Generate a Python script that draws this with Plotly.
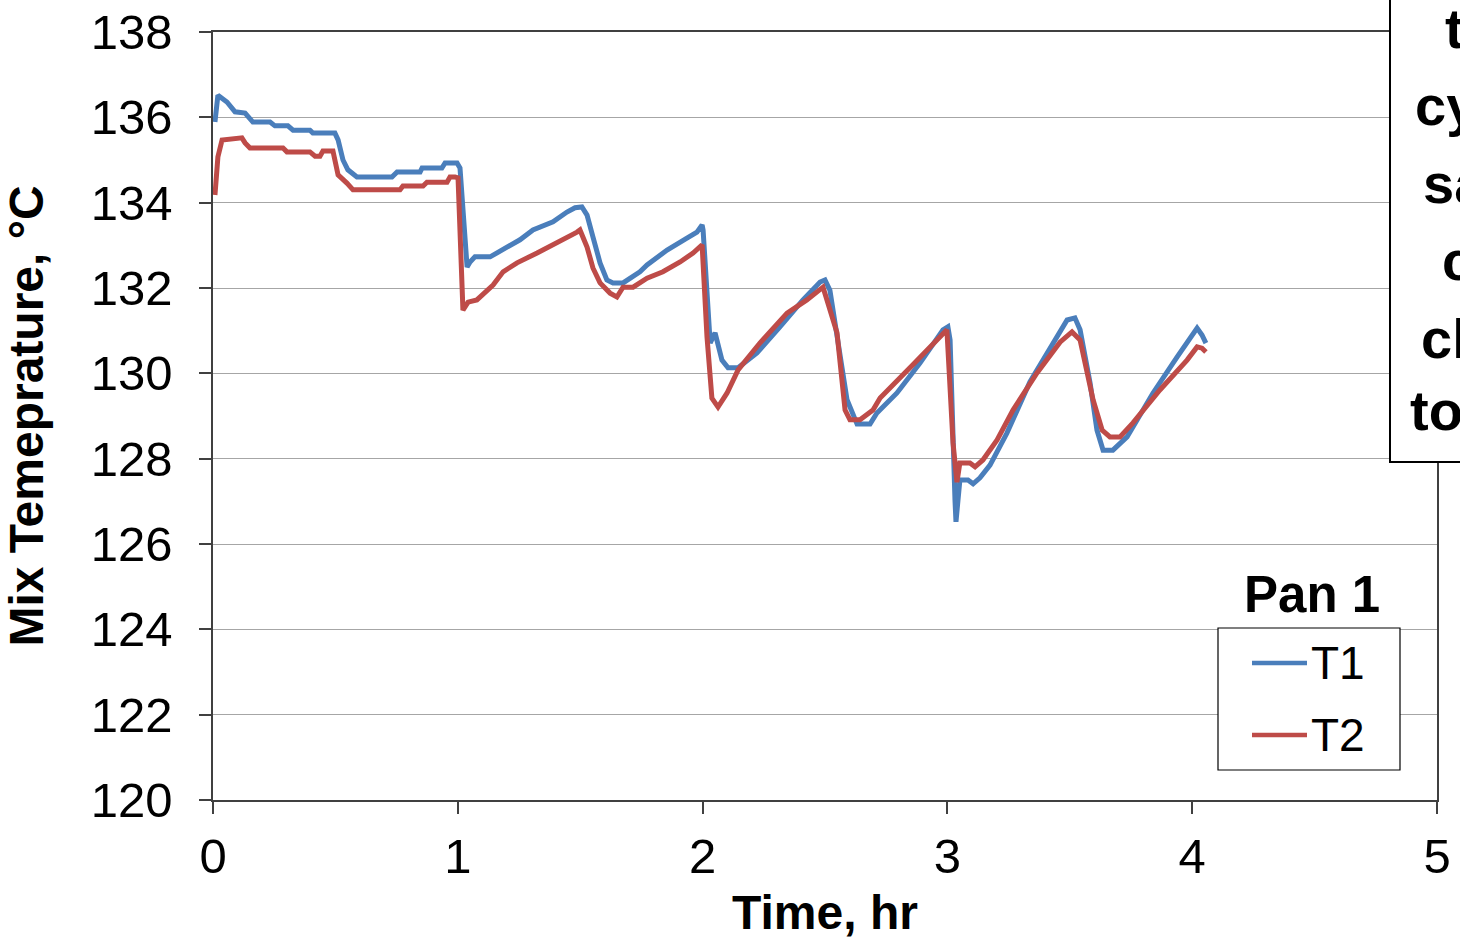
import plotly.graph_objects as go

# ---- data ----
t1_time = [0.008, 0.020, 0.057, 0.090, 0.131, 0.163, 0.233, 0.253, 0.306, 0.327, 0.396, 0.408, 0.498,
           0.511, 0.531, 0.551, 0.588, 0.731, 0.752, 0.846, 0.854, 0.935, 0.948, 0.997, 1.009,
           1.038, 1.050, 1.070, 1.132, 1.160, 1.201, 1.254, 1.307, 1.389, 1.446, 1.479, 1.507,
           1.528, 1.552, 1.581, 1.609, 1.634, 1.675, 1.703, 1.744, 1.773, 1.855, 1.936, 1.977,
           1.998, 2.002, 2.031, 2.051, 2.079, 2.104, 2.145, 2.222, 2.316, 2.410, 2.480, 2.500,
           2.520, 2.549, 2.590, 2.631, 2.684, 2.712, 2.794, 2.888, 2.982, 3.002, 3.011, 3.031,
           3.035, 3.051, 3.084, 3.105, 3.133, 3.174, 3.243, 3.337, 3.391, 3.460, 3.489, 3.521,
           3.542, 3.583, 3.611, 3.636, 3.676, 3.734, 3.840, 3.938, 4.020, 4.040, 4.056]
t1_temp = [135.89, 136.52, 136.36, 136.13, 136.10, 135.89, 135.89, 135.80, 135.80, 135.70, 135.70, 135.63, 135.63,
           135.47, 135.00, 134.77, 134.60, 134.60, 134.72, 134.72, 134.81, 134.81, 134.93, 134.93, 134.81,
           132.49, 132.61, 132.73, 132.73, 132.82, 132.96, 133.13, 133.36, 133.55, 133.78, 133.88, 133.90,
           133.71, 133.20, 132.59, 132.19, 132.12, 132.12, 132.23, 132.38, 132.54, 132.89, 133.17, 133.31,
           133.48, 133.36, 130.71, 130.95, 130.31, 130.13, 130.13, 130.48, 131.09, 131.72, 132.14, 132.19,
           131.95, 130.95, 129.38, 128.81, 128.81, 129.07, 129.54, 130.24, 131.02, 131.09, 130.78, 127.03,
           126.52, 127.50, 127.50, 127.41, 127.55, 127.85, 128.60, 129.80, 130.31, 130.95, 131.25, 131.30,
           131.02, 129.77, 128.67, 128.20, 128.20, 128.51, 129.54, 130.38, 131.06, 130.90, 130.71]

t2_time = [0.008, 0.020, 0.037, 0.118, 0.131, 0.151, 0.286, 0.302, 0.396, 0.417, 0.437, 0.449, 0.490,
           0.511, 0.547, 0.572, 0.764, 0.776, 0.858, 0.874, 0.956, 0.968, 0.989, 1.001,
           1.021, 1.042, 1.078, 1.119, 1.144, 1.185, 1.242, 1.324, 1.405, 1.487, 1.499,
           1.528, 1.552, 1.581, 1.622, 1.650, 1.675, 1.716, 1.773, 1.838, 1.908, 1.961, 1.998,
           2.018, 2.038, 2.063, 2.100, 2.145, 2.234, 2.345, 2.426, 2.492,
           2.549, 2.582, 2.602, 2.643, 2.696, 2.725, 2.859, 2.998,
           3.023, 3.039, 3.051, 3.092, 3.113, 3.145, 3.203, 3.268, 3.366, 3.460, 3.509,
           3.542, 3.595, 3.632, 3.664, 3.705, 3.758, 3.868, 3.979, 4.020, 4.040, 4.056]
t2_temp = [134.18, 135.07, 135.47, 135.52, 135.40, 135.28, 135.28, 135.19, 135.19, 135.09, 135.09, 135.21, 135.21,
           134.65, 134.46, 134.30, 134.30, 134.39, 134.39, 134.48, 134.48, 134.60, 134.60, 134.58,
           131.48, 131.67, 131.72, 131.95, 132.07, 132.38, 132.59, 132.82, 133.05, 133.31, 133.36,
           132.96, 132.47, 132.12, 131.88, 131.79, 132.02, 132.02, 132.23, 132.38, 132.61, 132.82, 133.01,
           130.85, 129.42, 129.21, 129.54, 130.08, 130.71, 131.41, 131.72, 132.02,
           130.95, 129.14, 128.91, 128.91, 129.14, 129.42, 130.20, 131.02,
           128.37, 127.45, 127.90, 127.90, 127.81, 127.97, 128.44, 129.14, 130.01, 130.73, 130.97,
           130.78, 129.38, 128.67, 128.51, 128.51, 128.84, 129.61, 130.31, 130.62, 130.59, 130.50]

series_names = ["T1", "T2"]
series_colors = ["#4A7EBB", "#BE4B48"]
legend_title = "Pan 1"
x_ticks = [0, 1, 2, 3, 4, 5]
y_ticks = [120, 122, 124, 126, 128, 130, 132, 134, 136, 138]
side_note_lines = ["t", "cy", "sa", "c", "cl", "to"]

FONT = "Liberation Sans, Arial, sans-serif"
W, H = 1460, 945
ML, MT = 213, 32
MR = W - 1437
MB = H - 800
PW, PH = W - ML - MR, H - MT - MB


def px_x(page_x):
    return (page_x - ML) / PW


def px_y(page_y):
    return (H - MB - page_y) / PH


fig = go.Figure()
fig.add_trace(go.Scatter(x=t1_time, y=t1_temp, mode="lines", name=series_names[0],
                         line=dict(color=series_colors[0], width=5), showlegend=False))
fig.add_trace(go.Scatter(x=t2_time, y=t2_temp, mode="lines", name=series_names[1],
                         line=dict(color=series_colors[1], width=5), showlegend=False))

axis_common = dict(showline=True, linecolor="#404040", linewidth=1.5, mirror=True,
                   ticks="outside", ticklen=12, tickcolor="#404040", tickwidth=1.5,
                   tickfont=dict(family=FONT, size=49, color="black"), zeroline=False,
                   ticklabeloverflow="allow")

fig.update_xaxes(range=[0, 5], tickvals=x_ticks, showgrid=False,
                 title=dict(text="<b>Time, hr</b>", font=dict(family=FONT, size=48, color="black"),
                            standoff=14),
                 ticklabelstandoff=0, **axis_common)
fig.update_yaxes(range=[120, 138], tickvals=y_ticks, showgrid=True, gridcolor="#A6A6A6", gridwidth=1.2,
                 title=dict(text="<b>Mix Temeprature, °C</b>", font=dict(family=FONT, size=48, color="black"),
                            standoff=33),
                 ticklabelstandoff=17, **axis_common)

# side text box (cut off by the right edge in the reference)
shapes = [dict(type="rect", xref="paper", yref="paper", x0=px_x(1390), x1=px_x(1520),
               y0=px_y(462), y1=px_y(-20), line=dict(color="black", width=2), fillcolor="white",
               layer="above")]

annotations = []
note_x = [1443, 1413, 1421, 1440, 1419, 1408]
note_y = [28, 105, 183, 260, 338, 410]
for txt, nx, ny in zip(side_note_lines, note_x, note_y):
    annotations.append(dict(text="<b>%s</b>" % txt, xref="paper", yref="paper", x=px_x(nx), y=px_y(ny),
                            xanchor="left", yanchor="middle", showarrow=False,
                            font=dict(family=FONT, size=56, color="black")))

# legend (title above a framed box, as in the reference)
annotations.append(dict(text="<b>%s</b>" % legend_title, xref="paper", yref="paper", x=px_x(1312), y=px_y(594),
                        xanchor="center", yanchor="middle", showarrow=False,
                        font=dict(family=FONT, size=51, color="black")))
shapes.append(dict(type="rect", xref="paper", yref="paper", x0=px_x(1218), x1=px_x(1400),
                   y0=px_y(770), y1=px_y(628), line=dict(color="black", width=1.2), fillcolor="white",
                   layer="above"))
legend_rows = [663, 735]
for name, color, ry in zip(series_names, series_colors, legend_rows):
    shapes.append(dict(type="line", xref="paper", yref="paper", x0=px_x(1252), x1=px_x(1307),
                       y0=px_y(ry), y1=px_y(ry), line=dict(color=color, width=4.5), layer="above"))
    annotations.append(dict(text=name, xref="paper", yref="paper", x=px_x(1309), y=px_y(ry),
                            xanchor="left", yanchor="middle", showarrow=False,
                            font=dict(family=FONT, size=46, color="black")))

fig.update_layout(
    width=W, height=H, margin=dict(l=ML, r=MR, t=MT, b=MB, autoexpand=False),
    paper_bgcolor="white", plot_bgcolor="white",
    font=dict(family=FONT, color="black"),
    shapes=shapes, annotations=annotations,
    showlegend=False, hovermode=False,
)

# remove the default page margin so the 1460x945 figure fills the window exactly
fig.write_html("out.html", config={"displayModeBar": False},
               post_script="document.body.style.margin='0';document.body.style.overflow='hidden';")
